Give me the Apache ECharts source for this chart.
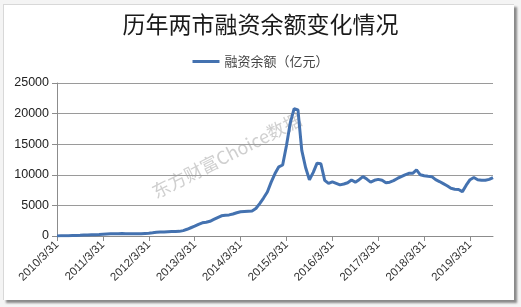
<!DOCTYPE html>
<html><head><meta charset="utf-8">
<script src="https://cdn.jsdelivr.net/npm/echarts@6/dist/echarts.min.js"></script>
<style>
html,body{margin:0;padding:0;background:#f4f4f4;width:521px;height:307px;overflow:hidden;}
#card{position:absolute;left:3px;top:4px;width:510px;height:295px;background:#fff;border-top:1px solid #d8d8d8;border-left:1px solid #d8d8d8;box-shadow:3px 3px 2px #8a8a8a;}
#main{position:absolute;left:0;top:0;width:521px;height:307px;}
</style>
</head><body>
<div id="card"></div>
<div id="main"></div>
<script>
const titleText = '历年两市融资余额变化情况';
const seriesName = '融资余额（亿元）';
const tickLabels = ['2010/3/31','2011/3/31','2012/3/31','2013/3/31','2014/3/31','2015/3/31','2016/3/31','2017/3/31','2018/3/31','2019/3/31'];
// monthly values, 2010/3 .. 2019/9
const values2010 = [10,30,50,60,80,100,120,150,180,200];
const values2011 = [220,250,290,330,350,360,380,390,380,370,380,380];
const values2012 = [380,420,450,520,600,650,670,700,720,740,760,880];
const values2013 = [1100,1350,1600,1900,2150,2250,2400,2700,3000,3300,3400,3450];
const values2014 = [3600,3800,3950,4000,4050,4100,4500,5300,6200,7200,8800,10200];
const values2015 = [11300,11600,14800,18500,20800,20600,14000,11200,9200,10400,11900,11800];
const values2016 = [9100,8600,8850,8600,8350,8500,8700,9150,8800,9200,9700,9300];
const values2017 = [8800,9100,9250,9100,8700,8800,9050,9400,9700,10000,10250,10250];
const values2018 = [10800,10000,9850,9750,9700,9200,8900,8550,8200,7800,7650,7600];
const values2019 = [7250,8300,9200,9550,9200,9100,9100,9250,9550];

const values = [].concat(values2010,values2011,values2012,values2013,values2014,values2015,values2016,values2017,values2018,values2019);
// month-end date categories
const categories = [];
for (let i = 0; i < values.length; i++) {
  const m0 = 2 + i;
  const y = 2010 + Math.floor(m0 / 12), m = m0 % 12 + 1;
  const d = new Date(y, m, 0).getDate();
  categories.push(y + '/' + m + '/' + d);
}

const chart = echarts.init(document.getElementById('main'));
chart.setOption({
  backgroundColor: 'transparent',
  animation: false,
  title: {
    text: titleText, left: 'center', top: 8,
    textStyle: {fontFamily: 'Noto Sans CJK SC', fontSize: 23, fontWeight: 'normal', color: '#1a1a1a'}
  },
  legend: {
    data: [seriesName], top: 50, left: 'center',
    itemWidth: 27, itemHeight: 3, itemGap: 5,
    icon: 'rect',
    textStyle: {fontFamily: 'Noto Sans CJK SC', fontSize: 13, color: '#444'}
  },
  grid: {left: 57, right: 28, top: 83, bottom: 71},
  xAxis: {
    type: 'category', data: categories, boundaryGap: false,
    axisLine: {lineStyle: {color: '#8c8c8c'}},
    axisTick: {interval: 11, length: 5, lineStyle: {color: '#8c8c8c'}},
    axisLabel: {interval: 11, rotate: 45, fontSize: 11.5, color: '#333', fontFamily: 'Liberation Sans', margin: 7,
      formatter: function (v, i) { return tickLabels[Math.floor(i / 12)] || v; }}
  },
  yAxis: {
    type: 'value', min: 0, max: 25000, interval: 5000,
    axisLine: {show: true, lineStyle: {color: '#8c8c8c'}},
    axisTick: {show: true, length: 5, lineStyle: {color: '#8c8c8c'}},
    axisLabel: {fontSize: 12.5, color: '#222', fontFamily: 'Liberation Sans', margin: 8,
      formatter: function (v) { return String(v); }},
    splitLine: {lineStyle: {color: '#9a9a9a'}}
  },
  graphic: [{
    type: 'text', left: 149, top: 110, rotation: Math.PI * 27 / 180, z: -10, zlevel: 0,
    style: {text: '东方财富Choice数据', font: '18px "Noto Sans CJK SC"', fill: 'rgba(160,160,160,0.5)'}
  }],
  series: [{
    name: seriesName, type: 'line', data: values, showSymbol: false, z: 5,
    lineStyle: {color: '#4472b0', width: 3}, itemStyle: {color: '#4472b0'}
  }]
});
</script>
</body></html>
